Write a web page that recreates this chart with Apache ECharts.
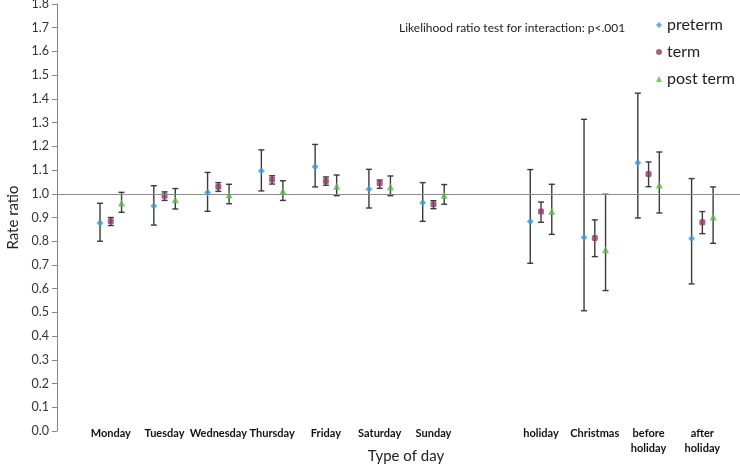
<!DOCTYPE html>
<html>
<head>
<meta charset="utf-8">
<script src="https://cdn.jsdelivr.net/npm/echarts@6/dist/echarts.min.js"></script>
<style>html,body{margin:0;padding:0;background:#fff}#c{width:740px;height:466px}</style>
</head>
<body>
<div id="c"></div>
<script>
var categories = ['Monday','Tuesday','Wednesday','Thursday','Friday','Saturday','Sunday','','holiday','Christmas','before\nholiday','after\nholiday'];
var yTicks = ['0.0','0.1','0.2','0.3','0.4','0.5','0.6','0.7','0.8','0.9','1.0','1.1','1.2','1.3','1.4','1.5','1.6','1.7','1.8'];

var pretermRR  = [0.877, 0.949, 1.005, 1.096, 1.114, 1.019, 0.962, null, 0.883, 0.816, 1.131, 0.812];
var pretermLo  = [0.800, 0.868, 0.926, 1.012, 1.029, 0.940, 0.884, null, 0.707, 0.507, 0.898, 0.620];
var pretermHi  = [0.960, 1.034, 1.090, 1.185, 1.208, 1.103, 1.047, null, 1.102, 1.314, 1.424, 1.064];

var termRR     = [0.884, 0.992, 1.030, 1.060, 1.054, 1.044, 0.956, null, 0.925, 0.814, 1.083, 0.880];
var termLo     = [0.866, 0.972, 1.010, 1.041, 1.036, 1.023, 0.937, null, 0.880, 0.735, 1.030, 0.832];
var termHi     = [0.900, 1.008, 1.047, 1.076, 1.071, 1.058, 0.971, null, 0.965, 0.890, 1.134, 0.925];

var postRR     = [0.961, 0.975, 0.996, 1.012, 1.032, 1.030, 0.994, null, 0.926, 0.764, 1.037, 0.902];
var postLo     = [0.922, 0.936, 0.958, 0.972, 0.992, 0.992, 0.956, null, 0.829, 0.592, 0.919, 0.791];
var postHi     = [1.006, 1.022, 1.040, 1.055, 1.079, 1.075, 1.039, null, 1.040, 0.998, 1.176, 1.029];

var seriesNames = ['preterm', 'term', 'post term'];
var colors = ['#3d9ad8', '#8e3a62', '#5cb84a'];
var offsets = [-0.2, 0, 0.2];

function pts(vals, off) {
  var out = [];
  vals.forEach(function (v, i) { if (v != null) out.push([i + 1 + off, v]); });
  return out;
}
function bars(lo, hi, off) {
  var out = [];
  lo.forEach(function (v, i) { if (v != null) out.push([i + 1 + off, v, hi[i]]); });
  return out;
}
function renderErr(params, api) {
  var x = api.value(0);
  var a = api.coord([x, api.value(1)]);
  var b = api.coord([x, api.value(2)]);
  var w = 3;
  var st = { stroke: '#3a3a3a', lineWidth: 1.4 };
  return {
    type: 'group',
    children: [
      { type: 'line', shape: { x1: a[0], y1: a[1], x2: b[0], y2: b[1] }, style: st },
      { type: 'line', shape: { x1: a[0] - w, y1: a[1], x2: a[0] + w, y2: a[1] }, style: st },
      { type: 'line', shape: { x1: b[0] - w, y1: b[1], x2: b[0] + w, y2: b[1] }, style: st }
    ]
  };
}

var allRR = [pretermRR, termRR, postRR];
var allLo = [pretermLo, termLo, postLo];
var allHi = [pretermHi, termHi, postHi];
var symbols = ['diamond', 'roundRect', 'triangle'];
var sizes = [7, 6, 7];

var series = [];
for (var k = 0; k < 3; k++) {
  series.push({
    name: seriesNames[k] + ' CI',
    type: 'custom',
    renderItem: renderErr,
    encode: { x: 0, y: [1, 2] },
    data: bars(allLo[k], allHi[k], offsets[k]),
    silent: true,
    z: 2
  });
}
for (var k2 = 0; k2 < 3; k2++) {
  series.push({
    name: seriesNames[k2],
    type: 'scatter',
    symbol: symbols[k2],
    symbolSize: sizes[k2],
    itemStyle: { color: colors[k2] },
    data: pts(allRR[k2], offsets[k2]),
    z: 3
  });
}
series[0].markLine = {
  silent: true,
  symbol: 'none',
  label: { show: false },
  lineStyle: { color: '#8c8c8c', width: 1, type: 'solid' },
  data: [{ yAxis: 1 }]
};

var chart = echarts.init(document.getElementById('c'), null, { renderer: 'canvas' });
chart.setOption({
  animation: false,
  backgroundColor: '#fff',
  textStyle: { fontFamily: 'Lato, "Liberation Sans", sans-serif' },
  grid: { left: 57, right: 0, top: 4, bottom: 35, containLabel: false, outerBoundsMode: 'none' },
  legend: {
    data: seriesNames.map(function (n, i) { return { name: n, icon: ['diamond', 'circle', 'triangle'][i] }; }),
    orient: 'vertical',
    left: 651,
    top: 12,
    itemWidth: 6,
    itemHeight: 6,
    itemGap: 11,
    textStyle: { fontSize: 16, color: '#222', fontFamily: 'Lato, sans-serif' }
  },
  graphic: [{
    type: 'text',
    left: 399,
    top: 22,
    style: { text: 'Likelihood ratio test for interaction: p<.001', fontSize: 12, fill: '#222', fontFamily: 'Lato, sans-serif' }
  }, {
    type: 'text',
    x: 406,
    y: 456,
    style: { text: 'Type of day', fontSize: 15, fill: '#222', align: 'center', verticalAlign: 'middle', fontFamily: 'Lato, sans-serif' }
  }],
  xAxis: {
    type: 'value',
    min: 0,
    max: 12.7,
    interval: 1,
    axisLine: { show: false },
    axisTick: { show: false },
    splitLine: { show: false },
    axisLabel: {
      margin: -5,
      fontSize: 11,
      fontWeight: 'bold',
      color: '#111',
      lineHeight: 15,
      verticalAlign: 'top',
      showMaxLabel: false,
      formatter: function (v) {
        var i = Math.round(v) - 1;
        return (i >= 0 && i < categories.length) ? categories[i] : '';
      }
    }
  },
  yAxis: {
    type: 'value',
    min: 0,
    max: 1.8,
    interval: 0.1,
    name: 'Rate ratio',
    nameLocation: 'middle',
    nameGap: 31,
    nameTextStyle: { fontSize: 15, color: '#222' },
    axisLine: { show: true, lineStyle: { color: '#868686' } },
    axisTick: { show: true, length: 5, lineStyle: { color: '#868686' } },
    splitLine: { show: false },
    axisLabel: {
      fontSize: 12.5,
      color: '#333',
      margin: 8,
      formatter: function (v) { return yTicks[Math.round(v * 10)]; }
    }
  },
  series: series
});
</script>
</body>
</html>
